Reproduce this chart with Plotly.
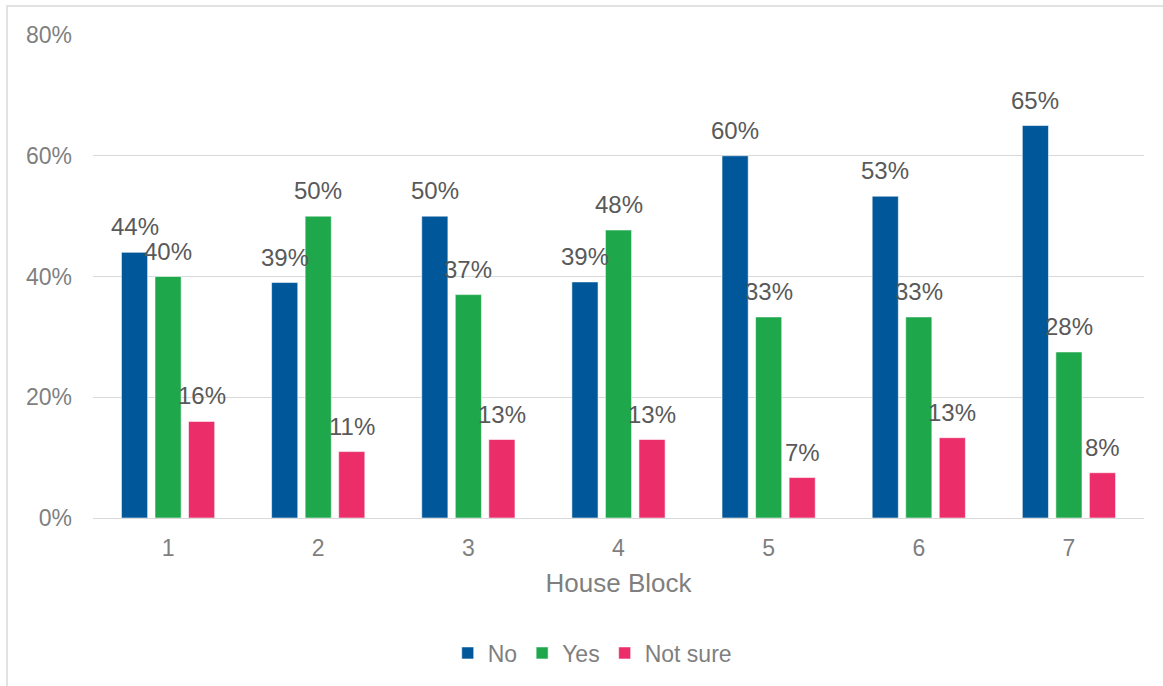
import plotly.graph_objects as go

blocks = ["1", "2", "3", "4", "5", "6", "7"]
no_vals = [44.0, 39.0, 50.0, 39.1, 60.0, 53.3, 65.0]
yes_vals = [40.0, 50.0, 37.0, 47.7, 33.3, 33.3, 27.5]
notsure_vals = [16.0, 11.0, 13.0, 13.0, 6.7, 13.3, 7.5]
series_names = ["No", "Yes", "Not sure"]
series_colors = ["#00589B", "#1EA84B", "#EB2E6A"]
y_ticks = [0, 20, 40, 60, 80]
y_tick_labels = ["0%", "20%", "40%", "60%", "80%"]

BARGAP = 0.33
BARGROUPGAP = 0.22
FONT = "Liberation Sans, Arial, sans-serif"

fig = go.Figure()
all_vals = [no_vals, yes_vals, notsure_vals]
for name, vals, col in zip(series_names, all_vals, series_colors):
    fig.add_trace(go.Bar(
        name=name, x=blocks, y=vals,
        marker=dict(color=col, line=dict(color="rgba(255,255,255,0.55)", width=1)),
    ))

# data labels above each bar, positioned at the grouped bar centres
slot = (1 - BARGAP) / len(series_names)
annotations = []
for j, vals in enumerate(all_vals):
    off = (j - (len(series_names) - 1) / 2) * slot
    for i, v in enumerate(vals):
        annotations.append(dict(
            x=i + off, y=v, xref="x", yref="y",
            text=f"{round(v + 1e-9):.0f}%", showarrow=False,
            yanchor="bottom", xanchor="center", yshift=10,
            font=dict(family=FONT, size=24, color="#595959"),
        ))

fig.update_layout(
    width=1163, height=686,
    margin=dict(l=93, r=19, t=35, b=168),
    paper_bgcolor="white", plot_bgcolor="white",
    barmode="group", bargap=BARGAP, bargroupgap=BARGROUPGAP,
    font=dict(family=FONT, size=23, color="#7F7F7F"),
    showlegend=True,
    legend=dict(orientation="h", x=0.475, xanchor="center", y=-0.2795, yanchor="middle",
                font=dict(family=FONT, size=23, color="#7F7F7F"), traceorder="normal",
                itemwidth=30),
    annotations=annotations,
    shapes=[dict(type="rect", xref="paper", yref="paper",
                 xsizemode="pixel", ysizemode="pixel", xanchor=0, yanchor=1,
                 x0=-86, x1=1200, y0=-900, y1=29,
                 line=dict(color="#D9D9D9", width=1.5), fillcolor="rgba(0,0,0,0)", layer="below")],
)
fig.update_xaxes(
    type="category", showgrid=False, showline=False, zeroline=False, ticks="",
    tickfont=dict(family=FONT, size=23, color="#7F7F7F"), ticklabelstandoff=14,
    title=dict(text="House Block", font=dict(family=FONT, size=26, color="#7F7F7F"), standoff=13),
)
fig.update_yaxes(
    range=[0, 80], tickvals=y_ticks, ticktext=y_tick_labels,
    showgrid=True, gridcolor="#D9D9D9", gridwidth=1.4,
    zeroline=True, zerolinecolor="#D9D9D9", zerolinewidth=1.4,
    showline=False, ticks="", ticklabelstandoff=20,
    tickfont=dict(family=FONT, size=23, color="#7F7F7F"),
)

fig.write_html("out.html")
